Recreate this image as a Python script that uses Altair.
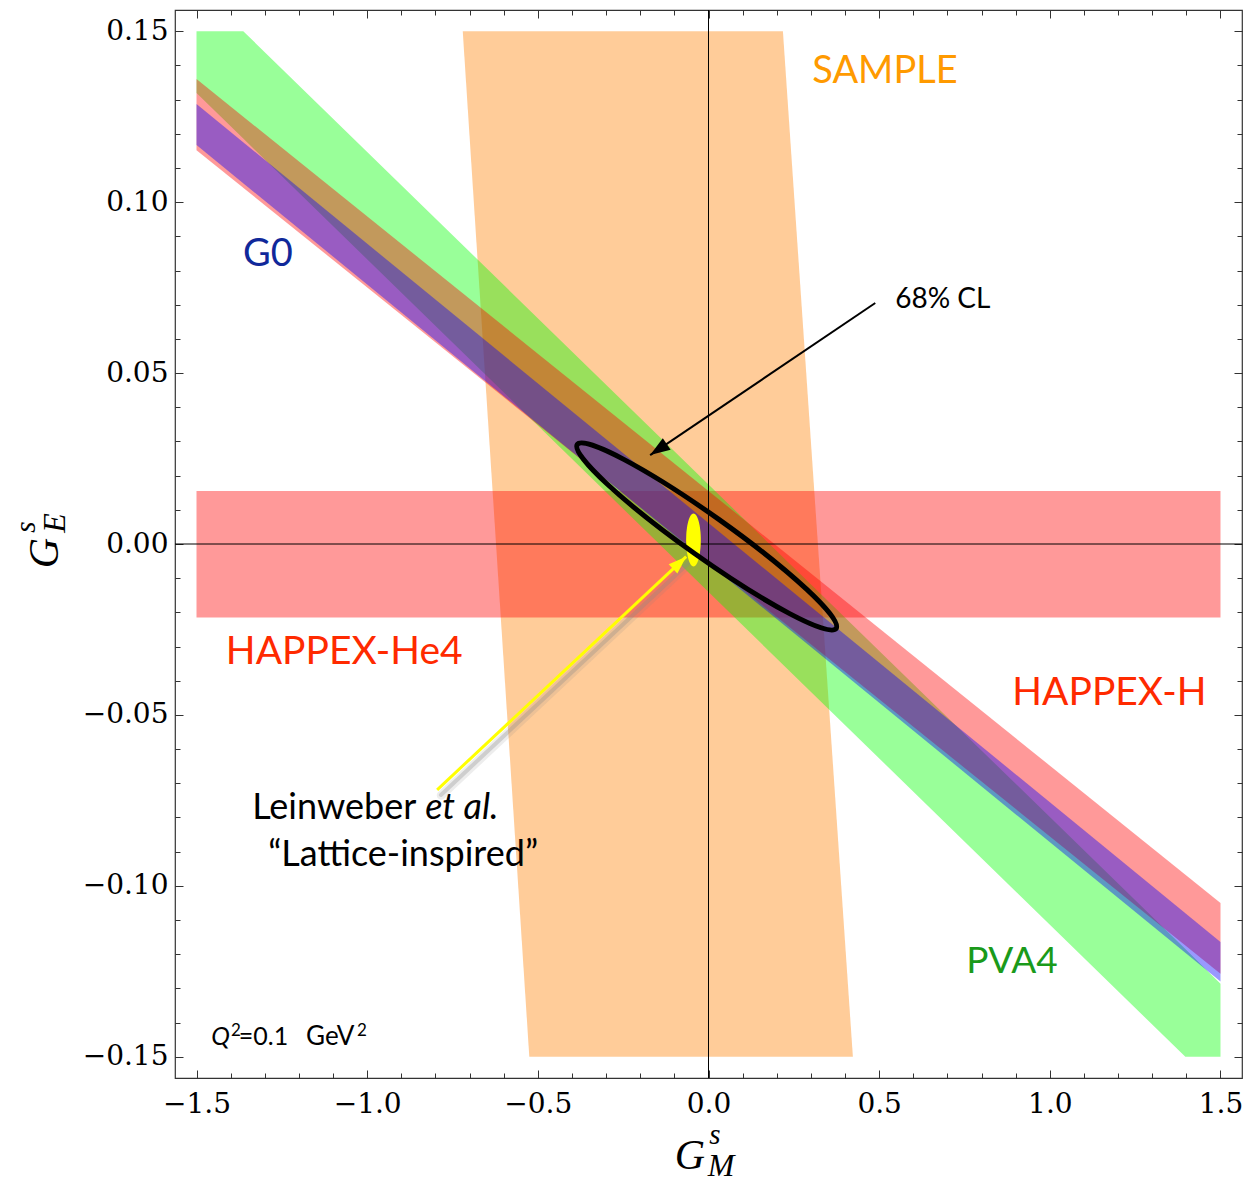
import altair as alt
import pandas as pd

# ---------------- data ----------------
x_major = [-1.5, -1.0, -0.5, 0.0, 0.5, 1.0, 1.5]
y_major = [-0.15, -0.10, -0.05, 0.0, 0.05, 0.10, 0.15]
x_minor = [i / 10 for i in range(-15, 16)]
y_minor = [i / 100 for i in range(-15, 16)]

# PVA4 band (green)
pva4_x = [-1.5, -1.363, 1.397, 1.5]
pva4_hi = [0.15, 0.15, -0.1185, -0.1286]
pva4_lo = [0.1319, 0.1186, -0.15, -0.15]

# HAPPEX-H band (red, diagonal)
happex_h_x = [-1.5, 1.5]
happex_h_hi = [0.136, -0.105]
happex_h_lo = [0.1152, -0.1257]

# G0 band (blue)
g0_x = [-1.5, 1.5]
g0_hi = [0.1287, -0.1164]
g0_lo = [0.1167, -0.128]

# SAMPLE band (orange, near vertical)
sample_y = [-0.15, 0.15]
sample_left = [-0.525, -0.72]
sample_right = [0.423, 0.218]

# HAPPEX-He4 band (red, horizontal)
he4_x = [-1.5, 1.5]
he4_hi = [0.0155, 0.0155]
he4_lo = [-0.0215, -0.0215]

# 68% CL ellipse and lattice point centres
cl68_center = [-0.0053, 0.0022]
lattice_center = [-0.044, 0.0012]

# arrows (start, tip)
arrow_cl_x = [0.4886, -0.171]
arrow_cl_y = [0.0705, 0.026]
arrow_lat_x = [-0.795, -0.0654]
arrow_lat_y = [-0.0719, -0.0037]

# text annotations
label_text = ["SAMPLE", "G0", "68% CL", "HAPPEX-He4", "HAPPEX-H", "PVA4",
              "Leinweber", "\u201cLattice-inspired\u201d", "=0.1", "GeV", "2", "2"]
label_x = [0.304, -1.364, 0.547, -1.414, 0.890, 0.755,
           -1.337, -1.290, -1.376, -1.179, -1.399, -1.030]
label_y = [0.138, 0.0845, 0.0713, -0.0316, -0.0436, -0.1222,
           -0.0772, -0.0909, -0.1442, -0.1442, -0.1425, -0.1425]
italic_text = ["et al.", "Q"]
italic_x = [-0.830, -1.457]
italic_y = [-0.0772, -0.1442]

# ---------------- styles ----------------
label_style = {
    "SAMPLE": ("#FF9A00", 38),
    "G0": ("#10289A", 38),
    "68% CL": ("#000000", 28),
    "HAPPEX-He4": ("#FF2A00", 39),
    "HAPPEX-H": ("#FF2A00", 39),
    "PVA4": ("#1A9A1A", 37),
    "Leinweber": ("#000000", 36),
    "\u201cLattice-inspired\u201d": ("#000000", 36),
    "=0.1": ("#000000", 25),
    "GeV": ("#000000", 26),
    "2": ("#000000", 17),
}
italic_size = {"et al.": 36, "Q": 25}

xs = alt.Scale(domain=[-1.563, 1.563], nice=False, zero=False)
ys = alt.Scale(domain=[-0.1562, 0.1562], nice=False, zero=False)
TICK = "#333333"


def ax(orient, values, size, labels=False, fmt=None, pad=8):
    kw = dict(orient=orient, values=values, tickSize=size, offset=-size,
              domain=False, grid=False, labels=labels, title=None,
              ticks=True, tickColor=TICK, tickWidth=1)
    if labels:
        kw.update(labelFont="DejaVu Serif", labelFontSize=28, labelColor="black",
                  labelFlush=False, labelOverlap=False, format=fmt, labelPadding=pad)
    return alt.Axis(**kw)


def band(xv, hi, lo, color, xaxis=None, yaxis=None):
    df = pd.DataFrame({"x": xv, "hi": hi, "lo": lo})
    return alt.Chart(df).mark_area(color=color, opacity=0.4, strokeWidth=0).encode(
        x=alt.X("x:Q", scale=xs, axis=xaxis),
        y=alt.Y("hi:Q", scale=ys, axis=yaxis),
        y2="lo:Q",
    )


sample_df = pd.DataFrame({"y": sample_y, "left": sample_left, "right": sample_right})
sample = alt.Chart(sample_df).mark_area(color="#FF8000", opacity=0.4, orient="horizontal",
                                        strokeWidth=0).encode(
    y=alt.Y("y:Q", scale=ys, axis=ax("left", y_major, 8, True, ".2f", 7)),
    x=alt.X("left:Q", scale=xs, axis=ax("bottom", x_major, 8, True, ".1f", 12)),
    x2="right:Q",
)
he4 = band(he4_x, he4_hi, he4_lo, "#FF0000",
           xaxis=ax("bottom", x_minor, 5), yaxis=ax("left", y_minor, 5))
pva4 = band(pva4_x, pva4_hi, pva4_lo, "#00FF00",
            xaxis=ax("top", x_major, 8), yaxis=ax("right", y_major, 8))
happex_h = band(happex_h_x, happex_h_hi, happex_h_lo, "#FF0000",
                xaxis=ax("top", x_minor, 5), yaxis=ax("right", y_minor, 5))
g0 = band(g0_x, g0_hi, g0_lo, "#0000FF")

zero = pd.DataFrame({"v": [0.0]})
vline = alt.Chart(zero).mark_rule(color="black", strokeWidth=1).encode(
    x=alt.X("v:Q", scale=xs, axis=None))
hline = alt.Chart(zero).mark_rule(color="black", strokeWidth=1).encode(
    y=alt.Y("v:Q", scale=ys, axis=None))

ELL_PATH = "M -1 0 A 1 0.132 0 1 1 1 0 A 1 0.132 0 1 1 -1 0 Z"
ell = alt.Chart(pd.DataFrame({"x": [cl68_center[0]], "y": [cl68_center[1]]})).mark_point(
    shape=ELL_PATH, filled=False, color="black", strokeWidth=5, opacity=1,
    size=317.6 ** 2, angle=35.4).encode(
    x=alt.X("x:Q", scale=xs, axis=None), y=alt.Y("y:Q", scale=ys, axis=None))

YEL_PATH = "M 0 -1 A 0.277 1 0 1 1 0 1 A 0.277 1 0 1 1 0 -1 Z"
yel = alt.Chart(pd.DataFrame({"x": [lattice_center[0]], "y": [lattice_center[1]]})).mark_point(
    shape=YEL_PATH, filled=True, color="#FFFF00", strokeWidth=0, opacity=1,
    size=53 ** 2).encode(
    x=alt.X("x:Q", scale=xs, axis=None), y=alt.Y("y:Q", scale=ys, axis=None))

cl_df = pd.DataFrame({"x": arrow_cl_x, "y": arrow_cl_y})
lat_df = pd.DataFrame({"x": arrow_lat_x, "y": arrow_lat_y})

cl_line = alt.Chart(cl_df).mark_line(color="black", strokeWidth=2).encode(
    x=alt.X("x:Q", scale=xs, axis=None), y=alt.Y("y:Q", scale=ys, axis=None))
lat_shadow_wide = alt.Chart(lat_df).transform_calculate(
    sx="datum.x + 0.012", sy="datum.y - 0.0016").mark_line(
    color="#888888", strokeWidth=9, opacity=0.15, strokeCap="round").encode(
    x=alt.X("sx:Q", scale=xs, axis=None), y=alt.Y("sy:Q", scale=ys, axis=None))
lat_shadow = alt.Chart(lat_df).transform_calculate(
    sx="datum.x + 0.011", sy="datum.y - 0.0015").mark_line(
    color="#888888", strokeWidth=4, opacity=0.3, strokeCap="round").encode(
    x=alt.X("sx:Q", scale=xs, axis=None), y=alt.Y("sy:Q", scale=ys, axis=None))
lat_line = alt.Chart(lat_df).mark_line(color="#FFFF00", strokeWidth=3).encode(
    x=alt.X("x:Q", scale=xs, axis=None), y=alt.Y("y:Q", scale=ys, axis=None))

HEAD = "M 0 0 L 0.35 1 L -0.35 1 Z"
cl_head = alt.Chart(pd.DataFrame({"x": [arrow_cl_x[1]], "y": [arrow_cl_y[1]]})).mark_point(
    shape=HEAD, filled=True, color="black", size=1600, angle=236, opacity=1, strokeWidth=0).encode(
    x=alt.X("x:Q", scale=xs, axis=None), y=alt.Y("y:Q", scale=ys, axis=None))
lat_head = alt.Chart(pd.DataFrame({"x": [arrow_lat_x[1]], "y": [arrow_lat_y[1]]})).mark_point(
    shape=HEAD, filled=True, color="#FFFF00", size=1300, angle=46.9, opacity=1, strokeWidth=0).encode(
    x=alt.X("x:Q", scale=xs, axis=None), y=alt.Y("y:Q", scale=ys, axis=None))

lab_df = pd.DataFrame({
    "t": label_text, "x": label_x, "y": label_y,
    "c": [label_style[t][0] for t in label_text],
    "s": [label_style[t][1] for t in label_text],
})
labels = alt.Chart(lab_df).mark_text(font="Lato", align="left", baseline="middle").encode(
    x=alt.X("x:Q", scale=xs, axis=None), y=alt.Y("y:Q", scale=ys, axis=None),
    text="t:N", color=alt.Color("c:N", scale=None), size=alt.Size("s:Q", scale=None))

it_df = pd.DataFrame({"t": italic_text, "x": italic_x, "y": italic_y,
                      "s": [italic_size[t] for t in italic_text]})
italics = alt.Chart(it_df).mark_text(font="Lato", fontStyle="italic", align="left",
                                     baseline="middle", color="black").encode(
    x=alt.X("x:Q", scale=xs, axis=None), y=alt.Y("y:Q", scale=ys, axis=None),
    text="t:N", size=alt.Size("s:Q", scale=None))


def ptext(txt, x, y, size, angle=0):
    return alt.Chart(pd.DataFrame({"t": [txt]})).mark_text(
        font="Liberation Serif", fontStyle="italic", fontSize=size, align="center",
        baseline="alphabetic", angle=angle, color="black").encode(
        text="t:N", x=alt.value(x), y=alt.value(y))


titles = [
    ptext("G", 515, 1159, 42),
    ptext("s", 540, 1134, 29),
    ptext("M", 546, 1166, 32),
    ptext("G", -117, 543, 42, 270),
    ptext("s", -140, 517, 29, 270),
    ptext("E", -110, 513, 32, 270),
]

chart = alt.layer(
    sample, he4, pva4, happex_h, g0, vline, hline,
    lat_shadow_wide, lat_shadow, lat_line, lat_head, yel, ell, cl_line, cl_head,
    labels, italics, *titles,
).resolve_axis(x="independent", y="independent").properties(
    width=1067, height=1068,
    padding={"left": 175, "top": 10, "right": 3, "bottom": 107},
    autosize=alt.AutoSizeParams(type="none"),
).configure_view(stroke="#333333", strokeWidth=1.2)

chart.save("out.html", embed_options={"renderer": "svg", "actions": False})
